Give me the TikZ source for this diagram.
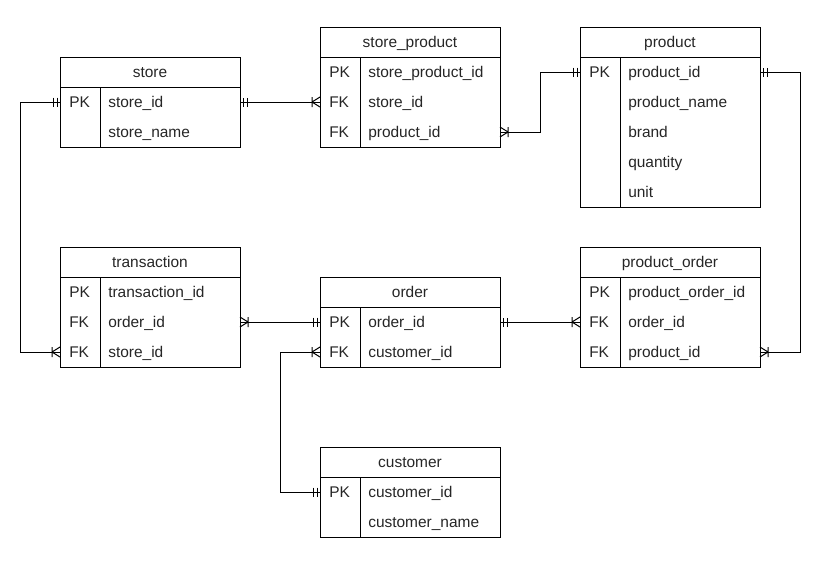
\documentclass[tikz,border=0pt]{standalone}
\usepackage{fontspec}
\setmainfont{Liberation Sans}
\tikzset{
  every picture/.style={x=0.75pt,y=-0.75pt},
  er/.style={line width=0.75pt, draw=black},
  txt/.style={font=\fontsize{11.6}{14}\selectfont, text=black!85, text height=8.6pt, text depth=0.4pt},
  hdr/.style={er, txt, minimum width=135pt, minimum height=22.5pt, inner sep=0pt, outer sep=0pt},
  rowbox/.style={minimum width=135pt, minimum height=22.5pt, inner sep=0pt, outer sep=0pt},
  keytxt/.style={txt, anchor=west, inner sep=0pt},
  fldtxt/.style={txt, anchor=west, inner sep=0pt},
  link/.style={line width=0.75pt, draw=black},
  one/.pic={\draw[link] (-3,-4.5) -- (-3,4.5) (-7,-4.5) -- (-7,4.5);},
  many/.pic={\draw[link] (-8,0) -- (0,-5) (-8,0) -- (0,5) (-8,-5) -- (-8,5);},
}
\newcommand\erTable[5]{%
  \node[hdr] (#1) at (#2+90,#3+15) {#4};
  \foreach [count=\i] \k/\f in {#5} {
    \node[rowbox] (#1-\i) at (#2+90,#3+15+30*\i) {};
    \node[keytxt] (#1-k\i) at (#2+9,#3+15+30*\i) {\k};
    \node[fldtxt] (#1-f\i) at (#2+48,#3+15+30*\i) {\f};
    \xdef\lastrow{\i}
  }
  \draw[er] (#1.north west) rectangle (#1-\lastrow.south east);
  \draw[er] ([xshift=30pt]#1.south west) -- ([xshift=30pt]#1-\lastrow.south west);
}
\begin{document}
\begin{tikzpicture}
\useasboundingbox (0,0) rectangle (824,562);
\erTable{store}{60}{57}{store}{PK/store\_id,{}/store\_name}
\erTable{sp}{320}{27}{store\_product}{PK/store\_product\_id,FK/store\_id,FK/product\_id}
\erTable{prod}{580}{27}{product}{PK/product\_id,{}/product\_name,{}/brand,{}/quantity,{}/unit}
\erTable{trans}{60}{247}{transaction}{PK/transaction\_id,FK/order\_id,FK/store\_id}
\erTable{ord}{320}{277}{order}{PK/order\_id,FK/customer\_id}
\erTable{po}{580}{247}{product\_order}{PK/product\_order\_id,FK/order\_id,FK/product\_id}
\erTable{cust}{320}{447}{customer}{PK/customer\_id,{}/customer\_name}

% connectors
\draw[link] (store-1.west) -- ++(-40,0) |- (trans-3.west);
\draw[link] (store-1.east) -- (sp-2.west);
\draw[link] (sp-3.east) -- ++(40,0) |- (prod-1.west);
\draw[link] (prod-1.east) -- ++(40,0) |- (po-3.east);
\draw[link] (trans-2.east) -- (ord-1.west);
\draw[link] (ord-1.east) -- (po-2.west);
\draw[link] (ord-2.west) -- ++(-40,0) |- (cust-1.west);

% ends
\pic at (store-1.west) {one};
\pic at (trans-3.west) {many};
\pic[rotate=180] at (store-1.east) {one};
\pic at (sp-2.west) {many};
\pic[rotate=180] at (sp-3.east) {many};
\pic at (prod-1.west) {one};
\pic[rotate=180] at (prod-1.east) {one};
\pic[rotate=180] at (po-3.east) {many};
\pic[rotate=180] at (trans-2.east) {many};
\pic at (ord-1.west) {one};
\pic[rotate=180] at (ord-1.east) {one};
\pic at (po-2.west) {many};
\pic at (ord-2.west) {many};
\pic at (cust-1.west) {one};
\end{tikzpicture}
\end{document}
